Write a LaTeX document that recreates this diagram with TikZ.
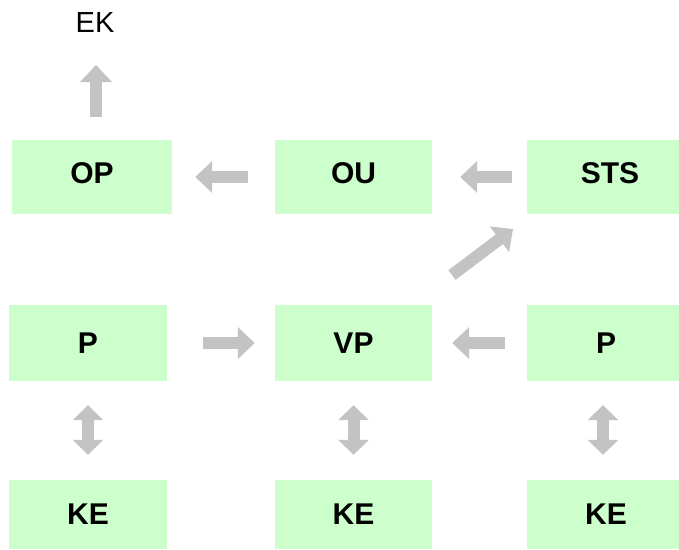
\documentclass[tikz,border=0pt]{standalone}
\usepackage{fontspec}
\setmainfont{Liberation Sans}
\usetikzlibrary{arrows.meta}
\definecolor{boxgreen}{HTML}{CCFFCC}
\definecolor{arrgray}{HTML}{C3C3C3}
\begin{document}
\begin{tikzpicture}[x=1pt,y=-1pt,
  box/.style={fill=boxgreen,draw=none,inner sep=0pt,font=\fontsize{30}{32}\selectfont\bfseries},
  toprow/.style={text depth=7pt},
  arr/.style={draw=arrgray,line width=12pt,-{Triangle[length=17pt,width=31pt]}},
  darr/.style={draw=arrgray,line width=12pt,{Triangle[length=15pt,width=30pt]}-{Triangle[length=15pt,width=30pt]}}]
\useasboundingbox (0,0) rectangle (679,549);
\node[font=\fontsize{29}{31}\selectfont] (EK) at (95,22.5) {EK};
\node[box,toprow,minimum width=160pt,minimum height=74pt] (OP) at (92,177) {OP};
\node[box,toprow,minimum width=157pt,minimum height=74pt] (OU) at (353.5,177) {OU};
\node[box,toprow,minimum width=166pt,minimum height=74pt] (STS) at (610,177) {STS};
\node[box,minimum width=158pt,minimum height=76pt] (P1) at (88,343) {P};
\node[box,minimum width=157pt,minimum height=76pt] (VP) at (353.5,343) {VP};
\node[box,minimum width=158pt,minimum height=76pt] (P2) at (606,343) {P};
\node[box,minimum width=158pt,minimum height=69pt] (KE1) at (88,514.5) {KE};
\node[box,minimum width=157pt,minimum height=69pt] (KE2) at (353.5,514.5) {KE};
\node[box,minimum width=158pt,minimum height=69pt] (KE3) at (606,514.5) {KE};
\coordinate (u1) at (96,117);
\coordinate (u2) at (96,65);
\coordinate (d1) at (452,275);
\coordinate (d2) at (513,229);
\draw[arr] (u1) -- (u2);
\draw[arr,shorten <=27pt,shorten >=23pt] (OU.west) -- (OP.east);
\draw[arr,shorten <=15pt,shorten >=28pt] (STS.west) -- (OU.east);
\draw[arr] (d1) -- (d2);
\draw[arr,shorten <=36pt,shorten >=20pt] (P1.east) -- (VP.west);
\draw[arr,shorten <=22pt,shorten >=20pt] (P2.west) -- (VP.east);
\draw[darr,shorten <=24pt,shorten >=25pt] (P1.south) -- (KE1.north);
\draw[darr,shorten <=24pt,shorten >=25pt] (VP.south) -- (KE2.north);
\draw[darr,shorten <=24pt,shorten >=25pt] ([xshift=-3pt]P2.south) -- ([xshift=-3pt]KE3.north);
\end{tikzpicture}
\end{document}
